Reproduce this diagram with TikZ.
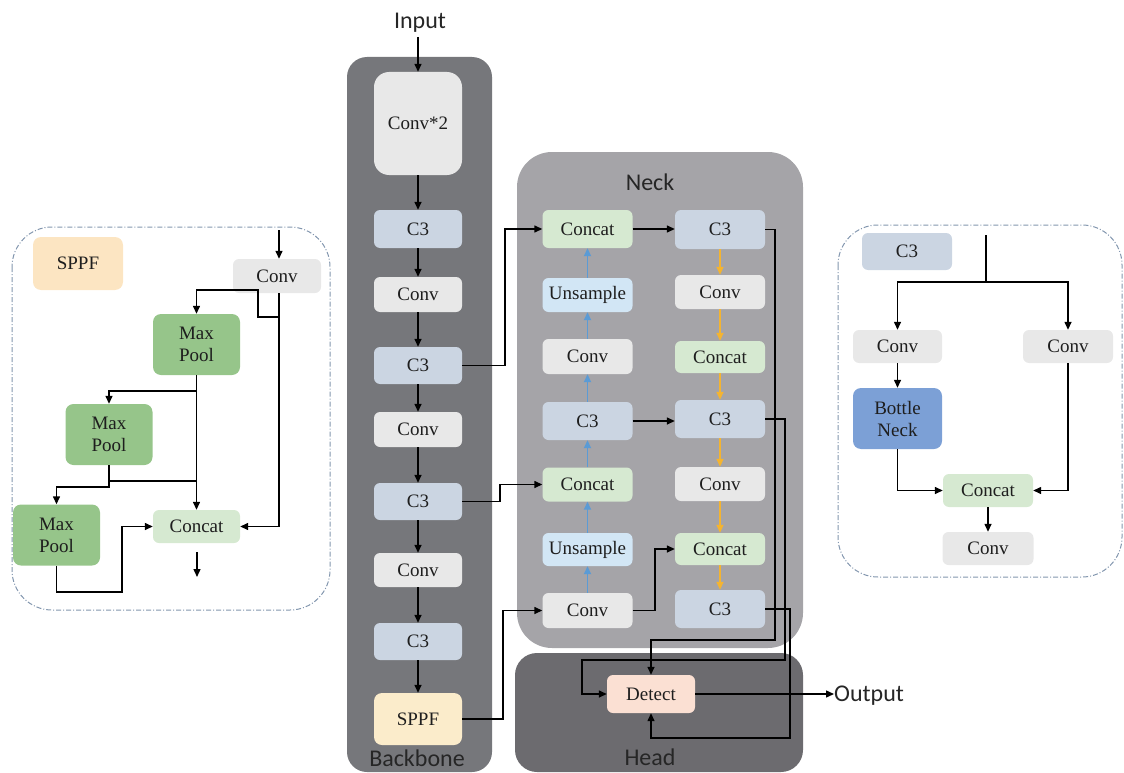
\documentclass[tikz,border=0pt]{standalone}
\usepackage{fontspec}
\setmainfont{Liberation Serif}
\newfontfamily\lblfont{Carlito}
\usetikzlibrary{arrows.meta}
\definecolor{convfill}{HTML}{E8E8E8}
\definecolor{cthreefill}{HTML}{CBD5E2}
\definecolor{concatfill}{HTML}{D6E9D1}
\definecolor{upfill}{HTML}{D2E6F5}
\definecolor{sppffill}{HTML}{FBECCB}
\definecolor{sppflbl}{HTML}{FCE5C2}
\definecolor{mpfill}{HTML}{96C58A}
\definecolor{bnfill}{HTML}{7CA0D6}
\definecolor{detfill}{HTML}{FBE0D3}
\definecolor{bbpanel}{HTML}{76777B}
\definecolor{neckpanel}{HTML}{A5A4A8}
\definecolor{headpanel}{HTML}{6C6B6F}
\definecolor{bluearr}{HTML}{5B9BD5}
\definecolor{orangearr}{HTML}{F4B431}
\definecolor{dashcol}{HTML}{8296AE}
\definecolor{txtcol}{HTML}{1E1E1E}
\tikzset{
  blk/.style={draw=none, rounded corners=6pt, inner sep=0pt, align=center,
    text=txtcol, font=\fontsize{19}{22}\selectfont},
  arr/.style={draw=black, line width=1.4pt, -{Triangle[length=8pt,width=7pt]}},
  ln/.style={draw=black, line width=1.4pt},
  uparr/.style={draw=bluearr, line width=1.8pt, -{Triangle[length=8pt,width=7pt]}},
  dnarr/.style={draw=orangearr, line width=1.8pt, -{Triangle[length=8pt,width=7pt]}},
  lbl/.style={font=\lblfont\fontsize{24}{28}\selectfont, text=black!85, inner sep=0pt},
  dashpanel/.style={draw=dashcol, line width=1pt, dash pattern=on 5pt off 2pt on 1pt off 2pt, rounded corners=40pt}
}
\begin{document}
\begin{tikzpicture}[x=1pt,y=-1pt]
\useasboundingbox (0,0) rectangle (1124,773);
% panels
\fill[bbpanel, rounded corners=20pt] (347,57) rectangle (492,772);
\fill[neckpanel, rounded corners=35pt] (517,152) rectangle (803,648);
\fill[headpanel, rounded corners=22pt] (515,653) rectangle (803,772);
\draw[dashpanel] (12,227) rectangle (330,610);
\draw[dashpanel] (838,225) rectangle (1122,577);
\node[lbl] (inlbl) at (420,23) {Input};
\node[lbl] (bblbl) at (417,758) {Backbone};
\node[lbl] (necklbl) at (650,182) {Neck};
\node[lbl] (headlbl) at (650,757) {Head};
% backbone
\node[blk, fill=convfill, rounded corners=15pt, minimum width=88pt, minimum height=103pt] (bconvb) at (418,123.5) {Conv*2};
\node[blk, fill=cthreefill, minimum width=88pt, minimum height=38pt] (bc3a) at (418,229) {C3};
\node[blk, fill=convfill, minimum width=88pt, minimum height=35pt] (bconva) at (418,294.5) {Conv};
\node[blk, fill=cthreefill, minimum width=88pt, minimum height=37pt] (bc3b) at (418,365.5) {C3};
\node[blk, fill=convfill, minimum width=88pt, minimum height=35pt] (bconvc) at (418,429.5) {Conv};
\node[blk, fill=cthreefill, minimum width=88pt, minimum height=37pt] (bc3c) at (418,501.5) {C3};
\node[blk, fill=convfill, minimum width=88pt, minimum height=34pt] (bconvd) at (418,570) {Conv};
\node[blk, fill=cthreefill, minimum width=88pt, minimum height=37pt] (bc3d) at (418,641.5) {C3};
\node[blk, fill=sppffill, rounded corners=8pt, minimum width=88pt, minimum height=52pt] (bsppf) at (418,719) {SPPF};
\draw[arr] ([yshift=-4pt]inlbl.south -| bconvb.north) -- (bconvb.north);
\draw[arr] (bconvb.south) -- (bc3a.north);
\draw[arr] (bc3a.south) -- (bconva.north);
\draw[arr] (bconva.south) -- (bc3b.north);
\draw[arr] (bc3b.south) -- (bconvc.north);
\draw[arr] (bconvc.south) -- (bc3c.north);
\draw[arr] (bc3c.south) -- (bconvd.north);
\draw[arr] (bconvd.south) -- (bc3d.north);
\draw[arr] (bc3d.south) -- (bsppf.north);
% neck left column
\node[blk, fill=concatfill, minimum width=90pt, minimum height=38pt] (nconcata) at (587.5,229) {Concat};
\node[blk, fill=upfill, minimum width=90pt, minimum height=34pt] (nupa) at (587.5,295) {Unsample};
\node[blk, fill=convfill, minimum width=90pt, minimum height=35pt] (nconva) at (587.5,356.5) {Conv};
\node[blk, fill=cthreefill, minimum width=90pt, minimum height=38pt] (nc3) at (587.5,421) {C3};
\node[blk, fill=concatfill, minimum width=90pt, minimum height=34pt] (nconcatb) at (587.5,484.5) {Concat};
\node[blk, fill=upfill, minimum width=90pt, minimum height=33pt] (nupb) at (587.5,549.5) {Unsample};
\node[blk, fill=convfill, minimum width=90pt, minimum height=35pt] (nconvb) at (587.5,610.5) {Conv};
\draw[uparr] (nconvb.north) -- (nupb.south);
\draw[uparr] (nupb.north) -- (nconcatb.south);
\draw[uparr] (nconcatb.north) -- (nc3.south);
\draw[uparr] (nc3.north) -- (nconva.south);
\draw[uparr] (nconva.north) -- (nupa.south);
\draw[uparr] (nupa.north) -- (nconcata.south);
% neck right column
\node[blk, fill=cthreefill, minimum width=90pt, minimum height=39pt] (rc3a) at (720,229.5) {C3};
\node[blk, fill=convfill, minimum width=90pt, minimum height=34pt] (rconva) at (720,292) {Conv};
\node[blk, fill=concatfill, minimum width=90pt, minimum height=32pt] (rconcata) at (720,357) {Concat};
\node[blk, fill=cthreefill, minimum width=90pt, minimum height=38pt] (rc3b) at (720,419) {C3};
\node[blk, fill=convfill, minimum width=90pt, minimum height=34pt] (rconvb) at (720,484) {Conv};
\node[blk, fill=concatfill, minimum width=90pt, minimum height=32pt] (rconcatb) at (720,549) {Concat};
\node[blk, fill=cthreefill, minimum width=90pt, minimum height=38pt] (rc3c) at (720,609) {C3};
\draw[dnarr] (rc3a.south) -- (rconva.north);
\draw[dnarr] (rconva.south) -- (rconcata.north);
\draw[dnarr] (rconcata.south) -- (rc3b.north);
\draw[dnarr] (rc3b.south) -- (rconvb.north);
\draw[dnarr] (rconvb.south) -- (rconcatb.north);
\draw[dnarr] (rconcatb.south) -- (rc3c.north);
% head
\node[blk, fill=detfill, minimum width=88pt, minimum height=38pt] (det) at (651,694) {Detect};
\node[lbl, anchor=west] (outlbl) at (834,696) {Output};
% backbone to neck
\draw[arr] (bc3b.east) -- (505,365.5) |- (nconcata.west);
\draw[arr] (bc3c.east) -- (500,501.5) |- (nconcatb.west);
\draw[arr] (bsppf.east) -- (503,719) |- (nconvb.west);
% within neck
\draw[arr] (nconcata.east) -- (nconcata.east -| rc3a.west);
\draw[arr] (nc3.east) -- (nc3.east -| rc3b.west);
\draw[arr] (nconvb.east) -- (655,610.5) |- (rconcatb.west);
% neck to head
\draw[arr] (rc3a.east) -- (775,229.5) -- (775,640) -| (det.north);
\draw[arr] (rc3b.east) -- (785,419) -- (785,660) -- (582,660) |- (det.west);
\draw[arr] (rc3c.east) -- (790,609) -- (790,738) -| (det.south);
\draw[arr] (det.east) -- (det.east -| outlbl.west);
% SPPF detail panel
\node[blk, fill=sppflbl, rounded corners=8pt, minimum width=90pt, minimum height=53pt] (sppfl) at (78,263.5) {SPPF};
\node[blk, fill=convfill, minimum width=88pt, minimum height=34pt] (sconv) at (277,276) {Conv};
\node[blk, fill=mpfill, rounded corners=8pt, minimum width=87pt, minimum height=61pt] (mpa) at (196.5,344.5) {Max\\Pool};
\node[blk, fill=mpfill, rounded corners=8pt, minimum width=87pt, minimum height=61pt] (mpb) at (109,434.5) {Max\\Pool};
\node[blk, fill=mpfill, rounded corners=8pt, minimum width=87pt, minimum height=61pt] (mpc) at (56.5,535) {Max\\Pool};
\node[blk, fill=concatfill, minimum width=87pt, minimum height=33pt] (sconcat) at (196.5,526.5) {Concat};
\coordinate (sin) at (279,230);
\draw[arr] (sin) -- (sin |- sconv.north);
\draw[arr] (279,293) |- (sconcat.east);
\draw[arr] (279,317) -- (258,317) -- (258,290) -| (mpa.north);
\draw[arr] (mpa.south) -- (sconcat.north);
\draw[arr] (196.5,391) -| (mpb.north);
\draw[arr] (mpb.south) -- (109,487) -| (mpc.north);
\draw[ln] (109,481) -- (196.5,481);
\draw[arr] (mpc.south) |- (122,592) |- (sconcat.west);
\coordinate (sout) at (197,552);
\draw[arr] (sout) -- (197,577);
% C3 detail panel
\node[blk, fill=cthreefill, minimum width=90pt, minimum height=37pt] (cthl) at (907,251.5) {C3};
\node[blk, fill=convfill, minimum width=89pt, minimum height=33pt] (cconva) at (897.5,346.5) {Conv};
\node[blk, fill=convfill, minimum width=90pt, minimum height=33pt] (cconvb) at (1068,346.5) {Conv};
\node[blk, fill=bnfill, rounded corners=8pt, minimum width=89pt, minimum height=61pt] (bneck) at (897.5,418.5) {Bottle\\Neck};
\node[blk, fill=concatfill, minimum width=90pt, minimum height=33pt] (cconcat) at (988,490.5) {Concat};
\node[blk, fill=convfill, minimum width=91pt, minimum height=33pt] (cconvc) at (988,548.5) {Conv};
\coordinate (ctop) at (986,235);
\coordinate (csplit) at (986,282);
\draw[ln] (ctop) -- (csplit);
\draw[arr] (csplit) -| (cconva.north);
\draw[arr] (csplit) -| (cconvb.north);
\draw[arr] (cconva.south) -- (bneck.north);
\draw[arr] (bneck.south) |- (cconcat.west);
\draw[arr] (cconvb.south) |- (cconcat.east);
\draw[arr] (cconcat.south) -- (cconvc.north);
\end{tikzpicture}
\end{document}
